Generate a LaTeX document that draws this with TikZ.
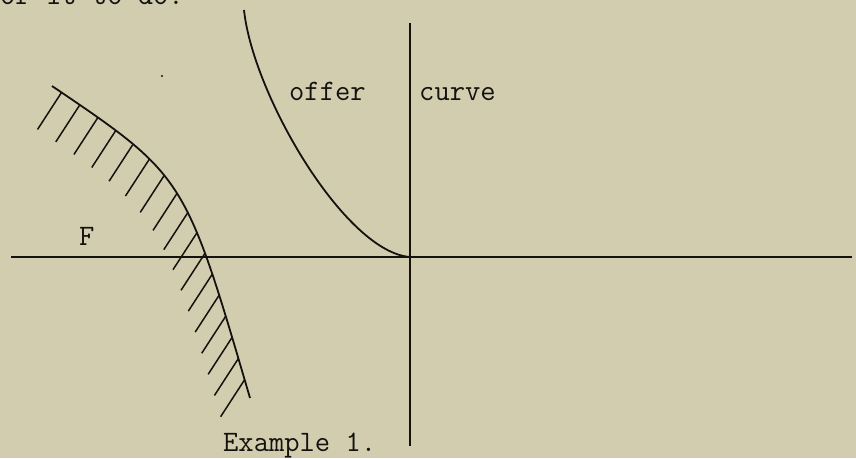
\documentclass[tikz,border=0pt]{standalone}
\usepackage{fontspec}
\usetikzlibrary{decorations.markings}
\definecolor{paper}{RGB}{211,205,176}
\definecolor{ink}{RGB}{20,18,14}
\tikzset{
  axis/.style={draw=ink, line width=2.2pt},
  curveline/.style={draw=ink, line width=1.8pt},
  lbl/.style={font=\ttfamily\fontsize{29.7}{30}\selectfont, text=ink, inner sep=0pt, anchor=base west},
  hatched/.style={decoration={markings,
      mark=between positions 0.03 and 0.97 step 0.0575 with {
        \pgftransformresetnontranslations
        \draw[ink, line width=1.5pt] (0pt,0pt) -- (-24pt,-37pt);
      }}, postaction={decorate}}
}
\begin{document}
\begin{tikzpicture}[x=1pt,y=-1pt]
  \fill[paper] (0,0) rectangle (856,458);
  \useasboundingbox (0,0) rectangle (856,458);
  \clip (0,0) rectangle (856,458);
  % partial text at top (cut off by the page edge, as in the reference)
  \node[lbl] (top) at (0,4) {or it to do.};
  % axes
  \coordinate (hl) at (11,257);
  \coordinate (hr) at (852,257);
  \coordinate (vt) at (410,23);
  \coordinate (vb) at (410,446);
  \coordinate (o) at (410,257);
  \draw[axis] (hl) -- (hr);
  \draw[axis] (vt) -- (vb);
  % offer curve
  \coordinate (os) at (244,10);
  \draw[curveline] (os) .. controls (253,95) and (345,252) .. (o);
  % hatched boundary curve
  \coordinate (hs) at (52,86);
  \coordinate (he) at (250,398);
  \draw[curveline, hatched] (hs) .. controls (185,176) .. (he);
  % labels
  \node[lbl] (offer) at (289,100) {offer};
  \node[lbl] (curve) at (419,100) {curve};
  \node[lbl] (F) at (79,245) {F};
  \node[lbl] (ex) at (223,451) {Example 1.};
  % speck
  \fill[ink] (162,76) circle (1.1);
\end{tikzpicture}
\end{document}
